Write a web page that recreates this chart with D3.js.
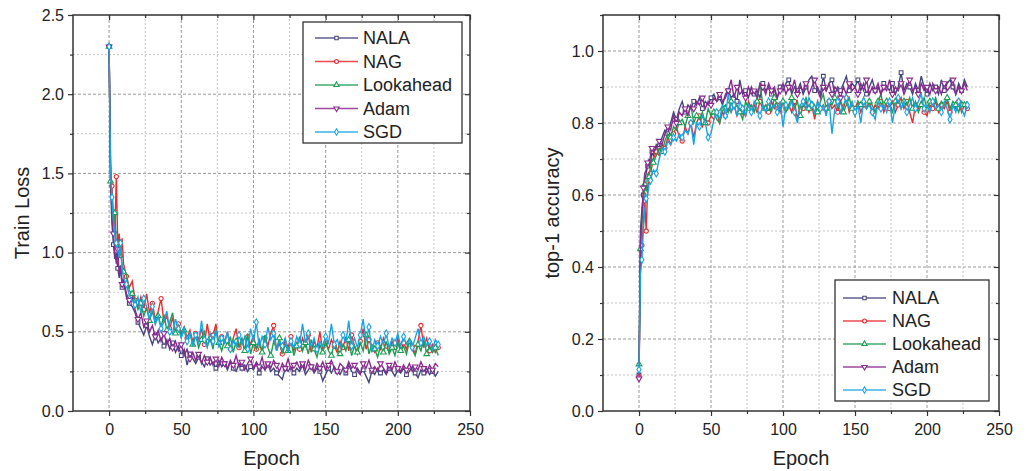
<!DOCTYPE html>
<html>
<head>
<meta charset="utf-8">
<script src="https://cdn.jsdelivr.net/npm/d3@7"></script>
<style>
  html, body { margin: 0; padding: 0; background: #fff; }
  svg { display: block; font-family: "Liberation Sans", Arial, sans-serif; }
</style>
</head>
<body>
<svg id="chart" width="1026" height="471"></svg>
<script>
// ---------------- DATA ----------------
const seriesNames = ["NALA", "NAG", "Lookahead", "Adam", "SGD"];
const epochs = [0,1,2,3,4,5,6,7,8,9,10,
  12,14,16,18,20,22,24,26,28,30,32,34,36,38,40,42,44,46,48,50,
  52,54,56,58,60,62,64,66,68,70,72,74,76,78,80,82,84,86,88,90,
  92,94,96,98,100,102,104,106,108,110,112,114,116,118,120,122,124,126,128,130,
  132,134,136,138,140,142,144,146,148,150,152,154,156,158,160,162,164,166,168,170,
  172,174,176,178,180,182,184,186,188,190,192,194,196,198,200,202,204,206,208,210,
  212,214,216,218,220,222,224,226,228];

const lossTicks = [0.0, 0.5, 1.0, 1.5, 2.0, 2.5];
const accTicks = [0.0, 0.2, 0.4, 0.6, 0.8, 1.0];
const epochTicks = [0, 50, 100, 150, 200, 250];

const lossNALA = [2.30,1.42,1.18,1.05,0.96,1.00,0.90,0.84,0.92,0.78,0.82,
  0.72,0.68,0.66,0.62,0.56,0.52,0.48,0.54,0.47,0.42,0.48,0.43,0.46,0.41,0.45,0.39,0.43,0.37,0.41,0.35,
  0.39,0.29,0.36,0.33,0.30,0.34,0.31,0.28,0.33,0.29,0.31,0.27,0.32,0.28,0.30,0.26,0.31,0.27,0.25,0.30,
  0.27,0.29,0.25,0.28,0.26,0.30,0.24,0.28,0.26,0.29,0.25,0.27,0.24,0.22,0.20,0.27,0.25,0.28,0.24,0.27,
  0.25,0.29,0.23,0.26,0.28,0.24,0.27,0.25,0.19,0.23,0.27,0.24,0.28,0.25,0.23,0.27,0.24,0.29,0.25,0.23,
  0.27,0.24,0.26,0.22,0.18,0.25,0.23,0.27,0.24,0.26,0.23,0.27,0.25,0.22,0.26,0.24,0.27,0.23,0.25,0.28,
  0.24,0.21,0.26,0.24,0.27,0.23,0.25,0.22,0.25];
const lossNAG = [2.30,1.50,1.42,1.22,1.13,1.48,1.05,1.12,0.98,1.09,0.93,
  0.85,0.78,0.82,0.70,0.66,0.72,0.64,0.74,0.62,0.68,0.58,0.63,0.71,0.56,0.60,0.52,0.59,0.50,0.55,0.48,
  0.53,0.46,0.51,0.44,0.49,0.45,0.52,0.42,0.55,0.44,0.48,0.55,0.41,0.47,0.43,0.50,0.39,0.46,0.52,0.40,
  0.45,0.38,0.47,0.42,0.48,0.39,0.44,0.37,0.46,0.41,0.49,0.54,0.38,0.43,0.36,0.45,0.40,0.47,0.38,0.43,
  0.39,0.46,0.41,0.48,0.37,0.44,0.40,0.50,0.38,0.43,0.39,0.45,0.41,0.37,0.44,0.40,0.47,0.38,0.48,0.41,
  0.36,0.44,0.52,0.39,0.45,0.40,0.37,0.43,0.39,0.46,0.41,0.37,0.44,0.40,0.46,0.38,0.43,0.39,0.45,0.41,
  0.36,0.44,0.54,0.40,0.46,0.38,0.42,0.37,0.40];
const lossLookahead = [2.30,1.45,1.35,1.18,1.25,1.05,1.08,0.98,1.01,0.92,0.88,
  0.86,0.76,0.74,0.70,0.64,0.68,0.60,0.65,0.57,0.63,0.55,0.60,0.53,0.61,0.51,0.56,0.62,0.49,0.54,0.47,
  0.51,0.44,0.49,0.42,0.48,0.40,0.45,0.50,0.41,0.46,0.39,0.52,0.43,0.38,0.45,0.41,0.47,0.37,0.44,0.40,
  0.46,0.38,0.49,0.36,0.43,0.39,0.45,0.37,0.48,0.40,0.35,0.44,0.39,0.46,0.36,0.42,0.38,0.44,0.35,0.41,
  0.47,0.38,0.43,0.36,0.45,0.39,0.34,0.42,0.37,0.44,0.38,0.35,0.43,0.39,0.36,0.42,0.38,0.45,0.35,0.41,
  0.37,0.43,0.38,0.48,0.36,0.42,0.39,0.34,0.41,0.37,0.44,0.36,0.40,0.35,0.43,0.38,0.41,0.36,0.44,0.39,
  0.35,0.42,0.38,0.45,0.36,0.41,0.37,0.40,0.35];
const lossAdam = [2.30,1.60,1.22,1.12,1.00,0.93,1.02,0.86,0.90,0.80,0.84,
  0.74,0.70,0.72,0.64,0.58,0.62,0.53,0.57,0.50,0.54,0.47,0.51,0.44,0.49,0.42,0.46,0.40,0.44,0.38,0.42,
  0.35,0.39,0.33,0.37,0.32,0.36,0.30,0.35,0.31,0.34,0.29,0.33,0.28,0.34,0.30,0.27,0.32,0.29,0.35,0.28,
  0.31,0.26,0.30,0.33,0.27,0.31,0.28,0.34,0.26,0.30,0.27,0.32,0.29,0.25,0.30,0.27,0.33,0.26,0.29,0.31,
  0.27,0.30,0.26,0.32,0.28,0.25,0.30,0.27,0.31,0.26,0.29,0.32,0.27,0.25,0.30,0.28,0.26,0.31,0.27,0.29,
  0.25,0.23,0.30,0.27,0.32,0.26,0.28,0.25,0.30,0.27,0.24,0.29,0.26,0.31,0.27,0.25,0.29,0.26,0.30,0.25,
  0.28,0.26,0.31,0.27,0.24,0.29,0.26,0.30,0.28];
const lossSGD = [2.30,1.53,1.35,1.20,1.12,1.06,1.02,0.97,1.06,0.90,0.84,
  0.80,0.73,0.70,0.67,0.72,0.62,0.71,0.66,0.58,0.66,0.55,0.60,0.52,0.57,0.63,0.50,0.49,0.58,0.52,0.46,
  0.53,0.44,0.50,0.41,0.48,0.42,0.57,0.45,0.40,0.49,0.44,0.51,0.40,0.46,0.43,0.50,0.39,0.45,0.41,0.48,
  0.42,0.47,0.39,0.52,0.44,0.56,0.40,0.47,0.42,0.53,0.45,0.49,0.38,0.44,0.41,0.46,0.37,0.44,0.40,0.47,
  0.42,0.55,0.43,0.49,0.40,0.46,0.39,0.44,0.41,0.47,0.43,0.55,0.42,0.45,0.40,0.48,0.43,0.57,0.41,0.46,
  0.40,0.48,0.58,0.44,0.53,0.37,0.45,0.41,0.47,0.42,0.49,0.40,0.46,0.43,0.49,0.41,0.47,0.42,0.45,0.40,
  0.46,0.52,0.43,0.47,0.41,0.44,0.39,0.45,0.42];

const accNALA = [0.10,0.50,0.56,0.60,0.64,0.66,0.68,0.70,0.68,0.72,0.71,
  0.74,0.73,0.76,0.78,0.77,0.80,0.83,0.81,0.84,0.86,0.83,0.85,0.84,0.86,0.85,0.87,0.84,0.86,0.85,0.87,
  0.88,0.86,0.87,0.85,0.88,0.89,0.87,0.88,0.86,0.92,0.88,0.89,0.87,0.90,0.88,0.89,0.87,0.91,0.89,0.90,
  0.88,0.89,0.87,0.90,0.89,0.91,0.92,0.88,0.90,0.89,0.91,0.88,0.90,0.92,0.93,0.89,0.90,0.88,0.93,0.89,
  0.91,0.92,0.88,0.90,0.89,0.91,0.93,0.89,0.91,0.90,0.92,0.89,0.91,0.88,0.90,0.92,0.89,0.90,0.88,0.91,
  0.90,0.89,0.91,0.88,0.90,0.94,0.89,0.91,0.90,0.88,0.91,0.89,0.93,0.90,0.88,0.91,0.89,0.90,0.88,0.92,
  0.89,0.91,0.92,0.90,0.88,0.91,0.89,0.92,0.90];
const accNAG = [0.095,0.40,0.46,0.52,0.58,0.50,0.62,0.64,0.66,0.68,0.70,
  0.72,0.71,0.74,0.73,0.76,0.74,0.77,0.79,0.76,0.75,0.79,0.77,0.80,0.76,0.80,0.82,0.79,0.81,0.80,0.82,
  0.81,0.83,0.80,0.83,0.82,0.84,0.83,0.85,0.82,0.84,0.83,0.82,0.86,0.84,0.85,0.83,0.86,0.84,0.85,0.83,
  0.86,0.84,0.85,0.83,0.86,0.84,0.85,0.83,0.86,0.81,0.85,0.84,0.86,0.83,0.85,0.81,0.86,0.84,0.85,0.83,
  0.86,0.84,0.85,0.83,0.86,0.84,0.87,0.83,0.85,0.84,0.86,0.83,0.85,0.84,0.86,0.83,0.85,0.84,0.86,0.83,
  0.85,0.84,0.86,0.83,0.85,0.87,0.84,0.86,0.83,0.80,0.85,0.84,0.86,0.83,0.82,0.85,0.84,0.86,0.83,0.85,
  0.84,0.86,0.83,0.85,0.84,0.86,0.83,0.85,0.84];
const accLookahead = [0.13,0.45,0.52,0.58,0.63,0.61,0.66,0.65,0.68,0.70,0.69,
  0.71,0.73,0.72,0.75,0.77,0.76,0.79,0.78,0.80,0.81,0.79,0.82,0.85,0.80,0.82,0.81,0.83,0.80,0.84,0.82,
  0.83,0.81,0.80,0.84,0.85,0.83,0.86,0.84,0.85,0.83,0.81,0.86,0.84,0.85,0.83,0.86,0.91,0.85,0.84,0.86,
  0.83,0.87,0.85,0.84,0.86,0.83,0.85,0.87,0.84,0.86,0.82,0.85,0.87,0.84,0.86,0.85,0.83,0.86,0.88,0.84,
  0.86,0.85,0.87,0.84,0.86,0.83,0.85,0.87,0.84,0.82,0.86,0.85,0.87,0.84,0.86,0.85,0.83,0.86,0.88,0.84,
  0.86,0.85,0.83,0.86,0.87,0.84,0.86,0.85,0.87,0.84,0.86,0.83,0.85,0.87,0.84,0.86,0.85,0.87,0.84,0.86,
  0.85,0.87,0.84,0.86,0.85,0.83,0.86,0.85,0.86];
const accAdam = [0.09,0.47,0.54,0.62,0.66,0.67,0.69,0.68,0.71,0.73,0.72,
  0.73,0.75,0.74,0.77,0.79,0.78,0.82,0.80,0.83,0.82,0.84,0.82,0.85,0.84,0.86,0.85,0.87,0.84,0.86,0.85,
  0.87,0.86,0.88,0.86,0.87,0.89,0.92,0.87,0.90,0.88,0.89,0.87,0.90,0.88,0.89,0.87,0.91,0.90,0.88,0.91,
  0.89,0.90,0.87,0.89,0.91,0.88,0.90,0.89,0.92,0.88,0.90,0.89,0.91,0.88,0.90,0.92,0.89,0.87,0.90,0.89,
  0.91,0.88,0.90,0.89,0.87,0.90,0.88,0.91,0.89,0.90,0.88,0.91,0.89,0.92,0.88,0.90,0.89,0.91,0.88,0.90,
  0.89,0.92,0.88,0.90,0.89,0.91,0.88,0.90,0.92,0.89,0.90,0.88,0.91,0.89,0.90,0.88,0.91,0.89,0.90,0.88,
  0.91,0.89,0.90,0.92,0.88,0.90,0.89,0.91,0.89];
const accSGD = [0.115,0.38,0.42,0.50,0.56,0.59,0.60,0.63,0.64,0.66,0.67,
  0.66,0.70,0.73,0.72,0.75,0.74,0.76,0.75,0.77,0.76,0.78,0.77,0.80,0.74,0.80,0.79,0.82,0.80,0.76,0.77,
  0.81,0.83,0.81,0.85,0.82,0.88,0.83,0.85,0.82,0.86,0.84,0.82,0.85,0.83,0.86,0.84,0.82,0.85,0.83,0.86,
  0.84,0.85,0.83,0.86,0.79,0.85,0.84,0.86,0.83,0.80,0.85,0.86,0.84,0.87,0.85,0.83,0.86,0.84,0.85,0.82,
  0.86,0.77,0.84,0.86,0.83,0.85,0.87,0.84,0.86,0.83,0.85,0.80,0.86,0.84,0.85,0.83,0.81,0.86,0.84,0.85,
  0.83,0.86,0.80,0.85,0.87,0.84,0.86,0.83,0.85,0.87,0.84,0.86,0.88,0.84,0.85,0.83,0.86,0.84,0.85,0.83,
  0.86,0.84,0.81,0.85,0.83,0.86,0.84,0.82,0.85];

const colors = ["#45457e", "#ee2a2e", "#1c9e52", "#8a2a8e", "#18a4e4"];
const symbols = [d3.symbolSquare, d3.symbolCircle, d3.symbolTriangle, "tri-down", d3.symbolDiamond];

// ---------------- DRAW ----------------
const svg = d3.select("#chart");

function symbolPath(i, size) {
  if (symbols[i] === "tri-down") {
    return d3.symbol().type(d3.symbolTriangle).size(size)();
  }
  return d3.symbol().type(symbols[i]).size(size)();
}

function drawPanel(cfg) {
  const { left, right, top, bottom, yDomain, yTicks, yMinorStep, yLabel, yFormat, series, legend } = cfg;
  const x = d3.scaleLinear().domain([-25, 250]).range([left, right]);
  const y = d3.scaleLinear().domain(yDomain).range([bottom, top]);
  const g = svg.append("g");

  // Grid
  const xGridAll = d3.range(0, 251, 25);
  const yGridAll = d3.range(yDomain[0], yDomain[1] + 1e-9, yMinorStep).map(v => +v.toFixed(3));
  xGridAll.forEach(v => {
    if (v <= -25 || v >= 250) return;
    const major = v % 50 === 0;
    g.append("line").attr("x1", x(v)).attr("x2", x(v)).attr("y1", top).attr("y2", bottom)
      .attr("stroke", major ? "#9a9a9a" : "#c4c4c4").attr("stroke-width", 1)
      .attr("stroke-dasharray", major ? "3,2" : "2,2");
  });
  yGridAll.forEach(v => {
    if (v <= yDomain[0] + 1e-9 || Math.abs(y(v) - top) < 1) return;
    const major = yTicks.some(t => Math.abs(t - v) < 1e-6);
    g.append("line").attr("x1", left).attr("x2", right).attr("y1", y(v)).attr("y2", y(v))
      .attr("stroke", major ? "#9a9a9a" : "#c4c4c4").attr("stroke-width", 1)
      .attr("stroke-dasharray", major ? "3,2" : "2,2");
  });

  // Series
  const line = d3.line().x(d => x(d[0])).y(d => y(d[1]));
  series.forEach((vals, i) => {
    const pts = epochs.map((e, k) => [e, vals[k]]).filter(d => d[1] !== undefined);
    g.append("path").datum(pts).attr("d", line)
      .attr("fill", "none").attr("stroke", colors[i]).attr("stroke-width", 1.4)
      .attr("stroke-linejoin", "miter");
    const mk = pts.filter((d, k) => k === 0 || (k > 0 && (k + i) % 3 === 0));
    g.selectAll(null).data(mk).enter().append("path")
      .attr("d", symbolPath(i, 14))
      .attr("transform", d => `translate(${x(d[0])},${y(d[1])})` + (symbols[i] === "tri-down" ? " rotate(180)" : ""))
      .attr("fill", "#fff").attr("stroke", colors[i]).attr("stroke-width", 1.1);
  });

  // Axes
  const axCol = "#333";
  const xAxB = d3.axisBottom(x).tickValues(epochTicks).tickSize(5).tickPadding(8).tickFormat(d3.format("d"));
  const xB = g.append("g").attr("transform", `translate(0,${bottom})`).call(xAxB);
  const xMinB = g.append("g").attr("transform", `translate(0,${bottom})`)
    .call(d3.axisBottom(x).tickValues([25, 75, 125, 175, 225]).tickSize(3).tickFormat(""));
  const xT = g.append("g").attr("transform", `translate(0,${top})`)
    .call(d3.axisBottom(x).tickValues(epochTicks).tickSize(5).tickFormat(""));
  const xMinT = g.append("g").attr("transform", `translate(0,${top})`)
    .call(d3.axisBottom(x).tickValues([25, 75, 125, 175, 225]).tickSize(3).tickFormat(""));

  const yMinorVals = yGridAll.filter(v => !yTicks.some(t => Math.abs(t - v) < 1e-6));
  const yL = g.append("g").attr("transform", `translate(${left},0)`)
    .call(d3.axisLeft(y).tickValues(yTicks).tickSize(5).tickPadding(4).tickFormat(yFormat));
  const yMinL = g.append("g").attr("transform", `translate(${left},0)`)
    .call(d3.axisLeft(y).tickValues(yMinorVals).tickSize(3).tickFormat(""));
  const yR = g.append("g").attr("transform", `translate(${right},0)`)
    .call(d3.axisLeft(y).tickValues(yTicks).tickSize(5).tickFormat(""));
  const yMinR = g.append("g").attr("transform", `translate(${right},0)`)
    .call(d3.axisLeft(y).tickValues(yMinorVals).tickSize(3).tickFormat(""));

  [xB, xMinB, xT, xMinT, yL, yMinL, yR, yMinR].forEach(a => {
    a.select(".domain").remove();
    a.selectAll(".tick line").attr("stroke", axCol).attr("stroke-width", 1.2);
    a.selectAll(".tick text").attr("font-size", 16).attr("fill", "#222")
      .attr("font-family", "'Liberation Sans', Arial, sans-serif");
  });
  // frame
  g.append("rect").attr("x", left).attr("y", top).attr("width", right - left).attr("height", bottom - top)
    .attr("fill", "none").attr("stroke", axCol).attr("stroke-width", 1.5);

  // Labels
  g.append("text").attr("x", (left + right) / 2).attr("y", bottom + 54)
    .attr("text-anchor", "middle").attr("font-size", 20).attr("fill", "#222").text("Epoch");
  g.append("text")
    .attr("transform", `translate(${left - 44},${(top + bottom) / 2}) rotate(-90)`)
    .attr("text-anchor", "middle").attr("font-size", 20).attr("fill", "#222").text(yLabel);

  // Legend
  const lg = g.append("g");
  lg.append("rect").attr("x", legend.x).attr("y", legend.y).attr("width", legend.w).attr("height", legend.h)
    .attr("fill", "#fff").attr("stroke", "#333").attr("stroke-width", 1.3);
  seriesNames.forEach((name, i) => {
    const cy = legend.y + legend.first + i * legend.dy;
    lg.append("line").attr("x1", legend.x + legend.lx0).attr("x2", legend.x + legend.lx1)
      .attr("y1", cy).attr("y2", cy).attr("stroke", colors[i]).attr("stroke-width", 1.5).attr("opacity", 0.85);
    lg.append("path").attr("d", symbolPath(i, 12))
      .attr("transform", `translate(${legend.x + (legend.lx0 + legend.lx1) / 2},${cy})` + (symbols[i] === "tri-down" ? " rotate(180)" : ""))
      .attr("fill", "#fff").attr("stroke", colors[i]).attr("stroke-width", 1.1);
    lg.append("text").attr("x", legend.x + legend.tx).attr("y", cy).attr("dy", "0.35em")
      .attr("font-size", 18).attr("fill", "#222").text(name);
  });
}

drawPanel({
  left: 73, right: 470, top: 15, bottom: 411,
  yDomain: [0, 2.5], yTicks: lossTicks, yMinorStep: 0.25,
  yLabel: "Train Loss", yFormat: d3.format(".1f"),
  series: [lossNALA, lossNAG, lossLookahead, lossAdam, lossSGD],
  legend: { x: 303, y: 22, w: 159, h: 121, first: 16, dy: 23.5, lx0: 12, lx1: 55, tx: 60 }
});

drawPanel({
  left: 603, right: 999, top: 15, bottom: 411,
  yDomain: [0, 1.1], yTicks: accTicks, yMinorStep: 0.1,
  yLabel: "top-1 accuracy", yFormat: d3.format(".1f"),
  series: [accNALA, accNAG, accLookahead, accAdam, accSGD],
  legend: { x: 835, y: 280, w: 154, h: 121, first: 18, dy: 23, lx0: 8, lx1: 51, tx: 57 }
});
</script>
</body>
</html>
